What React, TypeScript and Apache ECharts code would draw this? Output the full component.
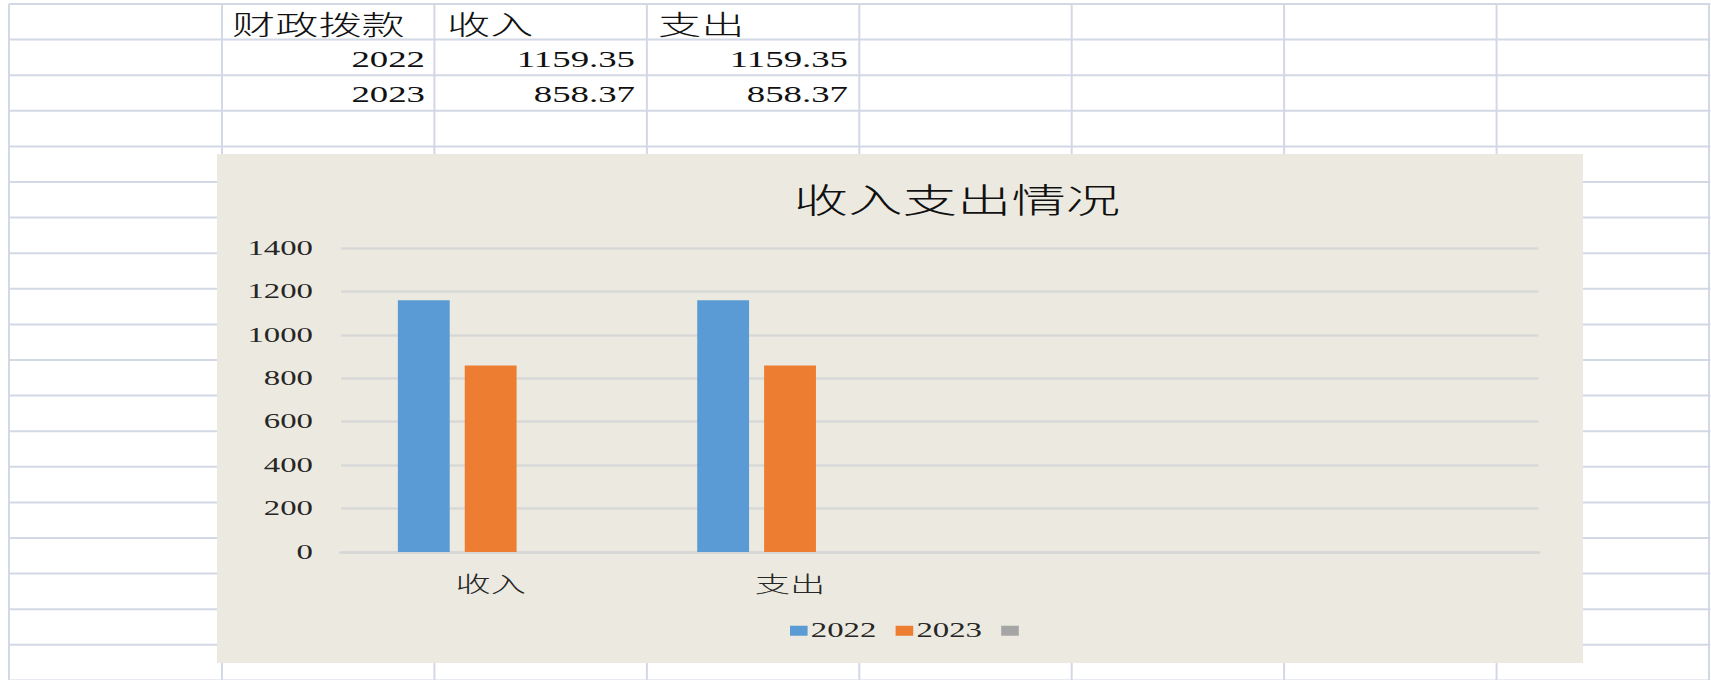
import React, { useEffect, useRef } from "react";
import * as echarts from "echarts";

// ---- data ----
const tableHeader = ["财政拨款", "收入", "支出"];
const years = ["2022", "2023"];
const incomeByYear = [1159.35, 858.37];
const expenseByYear = [1159.35, 858.37];

const chartTitle = "收入支出情况";
const categories = ["收入", "支出", "", ""];
const series2022 = [1159.35, 1159.35];
const series2023 = [858.37, 858.37];
const emptySeriesName = " ";
const yMin = 0;
const yMax = 1400;
const yInterval = 200;

// ---- layout (the reference is horizontally stretched) ----
const S = 1.6;
const PAGE_W = 1711;
const PAGE_H = 680;
const W = PAGE_W / S;
const X = (v: number) => v / S;

const SERIF = '"Liberation Serif", "Noto Sans CJK SC", serif';
const CJK = '"Noto Sans CJK SC", sans-serif';
const SHEET_LINE = "#D3D8E5";

const colLines = [9, 222, 434.4, 646.9, 859.3, 1071.7, 1284.1, 1496.6, 1709];
const rowLines = Array.from({ length: 20 }, (_, k) => 4 + 35.6 * k);

export default function App() {
  const ref = useRef<HTMLDivElement>(null);

  useEffect(() => {
    if (!ref.current) return;
    const chart = echarts.init(ref.current, undefined, { renderer: "svg" });

    const graphics: any[] = [];
    rowLines.forEach((y) => {
      graphics.push({
        type: "line",
        silent: true,
        z: -3,
        shape: { x1: X(colLines[0]), y1: y, x2: W, y2: y },
        style: { stroke: SHEET_LINE, lineWidth: 2 },
      });
    });
    colLines.forEach((x) => {
      graphics.push({
        type: "line",
        silent: true,
        z: -3,
        shape: { x1: X(x), y1: rowLines[0], x2: X(x), y2: PAGE_H },
        style: { stroke: SHEET_LINE, lineWidth: 1.25 },
      });
    });

    // table header
    const headerX = [232, 447, 658];
    tableHeader.forEach((t, i) => {
      graphics.push({
        type: "text",
        z: 1,
        x: X(headerX[i]),
        y: 23,
        style: {
          text: t,
          fontSize: 27,
          fontWeight: 300,
          fontFamily: CJK,
          fill: "#111",
          textAlign: "left",
          textVerticalAlign: "middle",
        },
      });
    });
    const rowCenters = [59.5, 95];
    const rightEdges = [425, 635, 848];
    years.forEach((yr, r) => {
      const cells = [yr, incomeByYear[r].toFixed(2), expenseByYear[r].toFixed(2)];
      cells.forEach((t, c) => {
        graphics.push({
          type: "text",
          z: 1,
          x: X(rightEdges[c]),
          y: rowCenters[r],
          style: {
            text: t,
            fontSize: 23,
            fontFamily: SERIF,
            fill: "#111",
            textAlign: "right",
            textVerticalAlign: "middle",
          },
        });
      });
    });

    // chart box
    graphics.push({
      type: "rect",
      silent: true,
      z: -1,
      shape: { x: X(217), y: 154, width: X(1583) - X(217), height: 509 },
      style: { fill: "#ECEAE0" },
    });
    graphics.push({
      type: "text",
      z: 1,
      x: X(957),
      y: 198,
      style: {
        text: chartTitle,
        fontSize: 34,
        fontWeight: 300,
        fontFamily: CJK,
        fill: "#111",
        textAlign: "center",
        textVerticalAlign: "middle",
      },
    });

    const gridLeft = X(341);
    const gridRight = W - X(1539);

    chart.setOption({
      animation: false,
      color: ["#5B9BD5", "#ED7D31", "#A5A5A5"],
      graphic: { elements: graphics },
      grid: {
        left: gridLeft,
        right: gridRight,
        top: 248,
        bottom: PAGE_H - 552,
        containLabel: false,
      },
      legend: {
        left: X(790),
        top: 620.5,
        padding: 0,
        itemGap: 12,
        itemWidth: 11,
        itemHeight: 10,
        icon: "rect",
        data: ["2022", "2023", emptySeriesName],
        textStyle: {
          fontSize: 20.5,
          fontFamily: SERIF,
          color: "#262626",
          padding: [0, 0, 0, -3],
        },
      },
      xAxis: {
        type: "category",
        data: categories,
        axisTick: { show: false },
        axisLine: { show: true, lineStyle: { color: "#D6D6D6", width: 2.5 } },
        axisLabel: {
          interval: 0,
          margin: 19,
          fontSize: 22,
          fontWeight: 300,
          fontFamily: CJK,
          color: "#262626",
        },
      },
      yAxis: {
        type: "value",
        min: yMin,
        max: yMax,
        interval: yInterval,
        axisLine: { show: false },
        axisTick: { show: false },
        axisLabel: {
          margin: gridLeft - X(313),
          fontSize: 20.5,
          fontFamily: SERIF,
          color: "#262626",
          formatter: (v: number) => String(v),
        },
        splitLine: { show: true, lineStyle: { color: "#D8D8D8", width: 2.5 } },
      },
      series: [
        {
          name: "2022",
          type: "bar",
          data: series2022,
          barGap: "29%",
          barCategoryGap: "38%",
        },
        {
          name: "2023",
          type: "bar",
          data: series2023,
          barGap: "29%",
          barCategoryGap: "38%",
        },
        {
          name: emptySeriesName,
          type: "bar",
          data: [],
          barGap: "29%",
          barCategoryGap: "38%",
        },
      ],
    });

    return () => chart.dispose();
  }, []);

  return (
    <div
      style={{
        position: "fixed",
        left: 0,
        top: 0,
        width: PAGE_W,
        height: PAGE_H,
        overflow: "hidden",
        background: "#fff",
      }}
    >
      <div
        ref={ref}
        style={{
          position: "absolute",
          left: 0,
          top: 0,
          width: W,
          height: PAGE_H,
          transform: `scaleX(${S})`,
          transformOrigin: "0 0",
        }}
      />
    </div>
  );
}
